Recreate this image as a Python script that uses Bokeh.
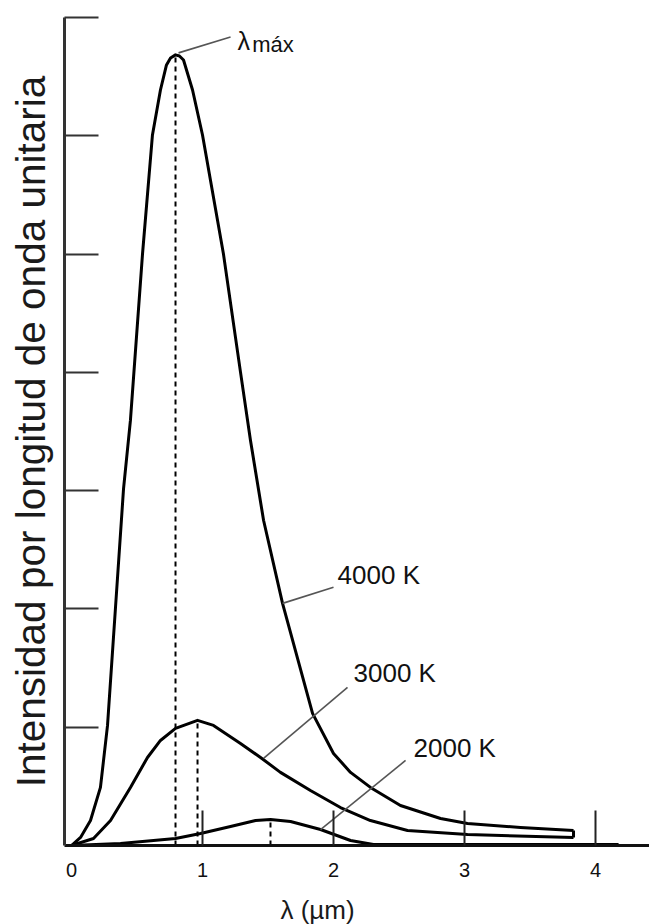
from bokeh.plotting import figure
from bokeh.models import FixedTicker, Range1d
from bokeh.layouts import column
from bokeh.core.properties import value
from bokeh.embed import file_html
from bokeh.resources import INLINE

# ---- data (x in µm, y in arbitrary units) ----
x_4000 = [0.0, 0.069, 0.145, 0.221, 0.275, 0.336, 0.397, 0.450, 0.542, 0.618,
          0.679, 0.725, 0.756, 0.794, 0.824, 0.855, 0.924, 1.0, 1.160, 1.290,
          1.366, 1.466, 1.611, 1.840, 2.0, 2.130, 2.282, 2.511, 2.817, 3.023,
          3.427, 3.832]
y_4000 = [0.0, 0.068, 0.211, 0.491, 1.015, 2.014, 3.012, 3.596, 5.0, 6.007,
          6.387, 6.599, 6.658, 6.684, 6.675, 6.641, 6.387, 6.007, 5.0, 4.002,
          3.426, 2.750, 2.047, 1.117, 0.778, 0.618, 0.491, 0.338, 0.228, 0.186,
          0.152, 0.127]

x_3000 = [0.0, 0.168, 0.298, 0.450, 0.580, 0.679, 0.794, 0.962, 1.084, 1.290,
          1.443, 1.595, 1.824, 2.053, 2.282, 2.565, 3.023, 3.832]
y_3000 = [0.0, 0.059, 0.211, 0.491, 0.744, 0.888, 0.990, 1.058, 1.015, 0.863,
          0.744, 0.618, 0.465, 0.321, 0.211, 0.127, 0.093, 0.068]

x_2000 = [0.0, 0.374, 0.794, 0.985, 1.214, 1.405, 1.519, 1.672, 1.901, 2.130,
          2.305, 4.176]
y_2000 = [0.0, 0.017, 0.059, 0.102, 0.161, 0.211, 0.220, 0.203, 0.135, 0.042,
          0.008, 0.008]

peak_x = [0.794, 0.962, 1.519]
peak_y = [6.684, 1.058, 0.220]

label_texts = ["4000 K", "3000 K", "2000 K"]
label_x = [2.031, 2.153, 2.611]
label_y = [2.284, 1.459, 0.825]
leader_x0 = [1.611, 1.466, 1.901]
leader_y0 = [2.047, 0.736, 0.135]
leader_x1 = [2.0, 2.107, 2.550]
leader_y1 = [2.183, 1.337, 0.719]

max_symbol = "λ"
max_sub = "máx"
max_label_x = [1.267, 1.380]
max_label_y = [6.80, 6.775]
max_leader = ([0.817, 1.214], [6.701, 6.836])

x_tick_values = [0, 1, 2, 3, 4]
x_tick_marks = [1, 2, 3, 4]
y_tick_marks = [1, 2, 3, 4, 5, 6, 7]

y_title = "Intensidad por longitud de onda unitaria"
x_title = "λ (µm)"

FONT = "Liberation Sans"

p = figure(width=649, height=893,
           x_range=Range1d(-0.0534, 4.412), y_range=Range1d(0, 7),
           output_backend="svg", toolbar_location=None,
           min_border_left=64, min_border_right=0,
           min_border_top=17, min_border_bottom=48)
p.outline_line_color = None
p.grid.visible = False
p.background_fill_color = "white"
p.border_fill_color = "white"

# x axis
xa = p.xaxis[0]
xa.ticker = FixedTicker(ticks=x_tick_values, minor_ticks=x_tick_marks)
xa.major_tick_in = 0
xa.major_tick_out = 0
xa.minor_tick_in = 35
xa.minor_tick_out = 0
xa.minor_tick_line_width = 2
xa.minor_tick_line_color = "#222222"
xa.axis_line_width = 3
xa.axis_line_color = "#111111"
xa.major_label_text_font = FONT
xa.major_label_text_font_size = "20px"
xa.major_label_text_color = "#111111"
xa.major_label_standoff = 17

# y axis
ya = p.yaxis[0]
ya.ticker = FixedTicker(ticks=y_tick_marks)
ya.major_tick_in = 34
ya.major_tick_out = 0
ya.minor_tick_in = 0
ya.minor_tick_out = 0
ya.major_tick_line_width = 2
ya.major_tick_line_color = "#333333"
ya.axis_line_width = 3
ya.axis_line_color = "#333333"
ya.major_label_overrides = {t: "" for t in y_tick_marks}
ya.major_label_text_font_size = "0px"
ya.major_label_standoff = 0
ya.axis_label = y_title
ya.axis_label_text_font = FONT
ya.axis_label_text_font_size = "40.5px"
ya.axis_label_text_font_style = "normal"
ya.axis_label_text_color = "#1a1a1a"
ya.axis_label_standoff = 11

# curves
for xs, ys in ((x_4000, y_4000), (x_3000, y_3000), (x_2000, y_2000)):
    p.line(xs, ys, line_width=3, line_color="black", line_join="round")

# closing cap between the ends of the 4000 K and 3000 K curves
p.segment(x0=[x_4000[-1]], y0=[y_4000[-1]], x1=[x_3000[-1]], y1=[y_3000[-1]],
          line_width=3, line_color="black")

# dashed lines at the peaks
p.segment(x0=peak_x, y0=[0] * len(peak_x), x1=peak_x, y1=peak_y,
          line_width=2, line_color="black", line_dash="5 4")

# leader lines
p.segment(x0=leader_x0, y0=leader_y0, x1=leader_x1, y1=leader_y1,
          line_width=1.6, line_color="#555555")
p.line(max_leader[0], max_leader[1], line_width=1.6, line_color="#555555")

# labels
p.text(x=label_x, y=label_y, text=label_texts,
       text_font=value(FONT), text_font_size="26px", text_color="#111111",
       text_baseline="middle", text_align="left")
p.text(x=[max_label_x[0]], y=[max_label_y[0]], text=[max_symbol],
       text_font=value(FONT), text_font_size="25px", text_color="#111111",
       text_baseline="middle", text_align="left")
p.text(x=[max_label_x[1]], y=[max_label_y[1]], text=[max_sub],
       text_font=value(FONT), text_font_size="22px", text_color="#111111",
       text_baseline="middle", text_align="left")

# strip below the chart carrying the x-axis title (off-centre, as in the reference);
# it shares the chart's x range so the title sits under the same λ position
t = figure(width=649, height=31, x_range=p.x_range, y_range=Range1d(0, 31),
           output_backend="svg", toolbar_location=None,
           x_axis_type=None, y_axis_type=None,
           min_border_left=64, min_border_right=0,
           min_border_top=0, min_border_bottom=0)
t.outline_line_color = None
t.grid.visible = False
t.text(x=[1.595], y=[15], text=[x_title],
       text_font=value(FONT), text_font_size="26px", text_color="#1a1a1a",
       text_baseline="middle", text_align="left")

layout = column(p, t, spacing=0)
open("out.html", "w").write(file_html(layout, INLINE))
